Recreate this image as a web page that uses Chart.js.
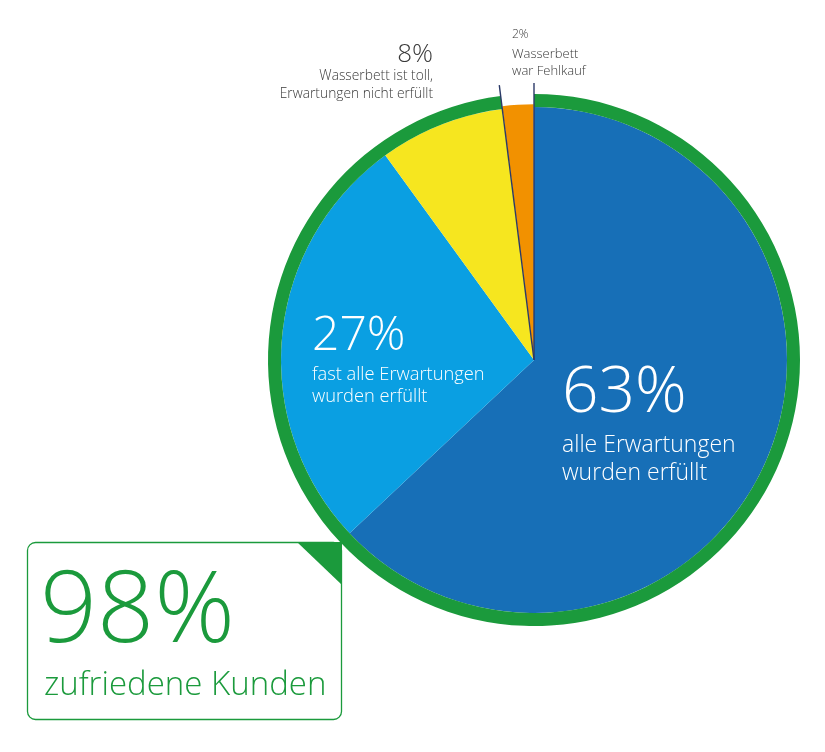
<!DOCTYPE html>
<html><head><meta charset="utf-8">
<style>html,body{margin:0;padding:0;background:#fff;}canvas{display:block;}</style>
<script src="https://cdn.jsdelivr.net/npm/chart.js@4.4.1/dist/chart.umd.min.js"></script>
</head><body>
<canvas id="c" width="825" height="752"></canvas>
<script>
// ---- data ----
const categories = ['alle Erwartungen wurden erfüllt', 'fast alle Erwartungen wurden erfüllt', 'Wasserbett ist toll, Erwartungen nicht erfüllt', 'Wasserbett war Fehlkauf'];
const shares = [63, 27, 8, 2];
const shareLabels = ['63%', '27%', '8%', '2%'];
const captions = [
  ['alle Erwartungen', 'wurden erfüllt'],
  ['fast alle Erwartungen', 'wurden erfüllt'],
  ['Wasserbett ist toll,', 'Erwartungen nicht erfüllt'],
  ['Wasserbett', 'war Fehlkauf']
];
const ringValues = [98, 2];
const summaryValue = '98%';
const summaryCaption = 'zufriedene Kunden';

// ---- styles ----
const sliceColors = ['#176fb7', '#0a9fe2', '#f6e61f', '#f29100'];
const GREEN = '#1b9a3c';
const LINE = '#2b3a68';
const FONT = '"Open Sans", "DejaVu Sans", sans-serif';

const labelLayout = [
  {x: 562, y: 412, size: 64, capY: [452, 480], capSize: 23, color: '#ffffff', align: 'left'},
  {x: 312, y: 350, size: 48, capY: [380, 402], capSize: 18.3, color: '#ffffff', align: 'left'},
  {x: 433, y: 62, size: 26, capY: [80, 98], capSize: 13.8, color: '#3a3a3a', align: 'right'},
  {x: 512, y: 38, size: 12, capY: [58, 75], capSize: 13, color: '#3a3a3a', align: 'left'}
];

const boxPlugin = {
  id: 'box',
  beforeDatasetsDraw(chart) {
    const ctx = chart.ctx;
    ctx.save();
    ctx.strokeStyle = GREEN;
    ctx.lineWidth = 1.3;
    ctx.beginPath();
    ctx.roundRect(27.5, 542.5, 314, 177, 8);
    ctx.stroke();
    ctx.fillStyle = GREEN;
    ctx.beginPath();
    ctx.moveTo(297, 542);
    ctx.lineTo(342, 542);
    ctx.lineTo(342, 585);
    ctx.closePath();
    ctx.fill();
    ctx.restore();
  }
};

const labelPlugin = {
  id: 'labels',
  afterDatasetsDraw(chart) {
    const ctx = chart.ctx;
    const meta = chart.getDatasetMeta(1);
    const arc = meta.data[3];
    ctx.save();
    // leader lines along the small slice edges
    ctx.strokeStyle = LINE;
    ctx.lineWidth = 1.4;
    [arc.startAngle, arc.endAngle].forEach(a => {
      ctx.beginPath();
      ctx.moveTo(arc.x, arc.y);
      ctx.lineTo(arc.x + 277 * Math.cos(a), arc.y + 277 * Math.sin(a));
      ctx.stroke();
    });
    // slice labels
    ctx.textBaseline = 'alphabetic';
    labelLayout.forEach((L, i) => {
      ctx.fillStyle = L.color;
      ctx.textAlign = L.align;
      ctx.font = '300 ' + L.size + 'px ' + FONT;
      ctx.fillText(shareLabels[i], L.x, L.y);
      ctx.font = '300 ' + L.capSize + 'px ' + FONT;
      captions[i].forEach((t, k) => ctx.fillText(t, L.x, L.capY[k]));
    });
    // summary box text
    ctx.fillStyle = GREEN;
    ctx.textAlign = 'left';
    ctx.font = '300 100px ' + FONT;
    ctx.fillText(summaryValue, 40, 642);
    ctx.font = '300 33px ' + FONT;
    ctx.fillText(summaryCaption, 44, 695);
    ctx.restore();
  }
};

new Chart(document.getElementById('c'), {
  type: 'doughnut',
  data: {
    labels: categories,
    datasets: [
      {data: ringValues, backgroundColor: [GREEN, 'rgba(0,0,0,0)'], borderWidth: 0, weight: 13},
      {data: shares, backgroundColor: sliceColors, borderWidth: 0, weight: 253, offset: [0, 0, 0, 6]}
    ]
  },
  options: {
    responsive: false,
    animation: false,
    events: [],
    cutout: 0,
    radius: 266,
    layout: {padding: {left: 268, right: 25, top: 94, bottom: 126}},
    plugins: {legend: {display: false}, tooltip: {enabled: false}}
  },
  plugins: [boxPlugin, labelPlugin]
});
</script>
</body></html>
